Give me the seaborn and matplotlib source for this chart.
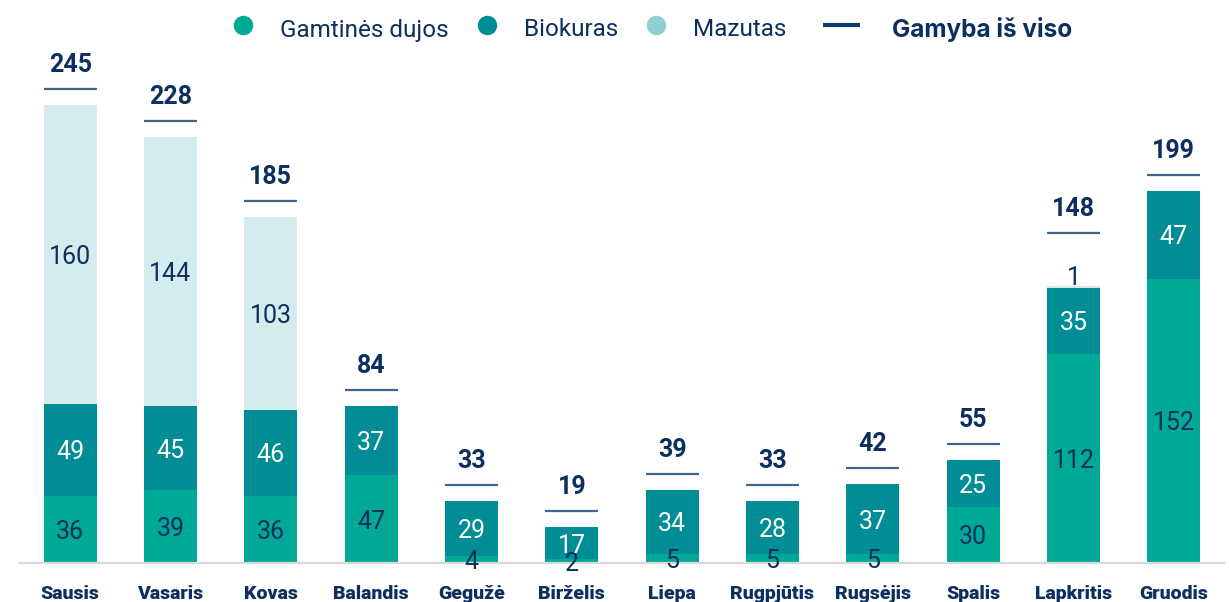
import numpy as np
import pandas as pd
import matplotlib
matplotlib.use("Agg")
import matplotlib.pyplot as plt
import matplotlib.transforms as mtransforms
from matplotlib.lines import Line2D
import seaborn as sns

# Monthly heat production by fuel type
months = ["Sausis", "Vasaris", "Kovas", "Balandis", "Gegužė", "Birželis",
          "Liepa", "Rugpjūtis", "Rugsėjis", "Spalis", "Lapkritis", "Gruodis"]
gamtines_dujos = [36, 39, 36, 47, 4, 2, 5, 5, 5, 30, 112, 152]
biokuras = [49, 45, 46, 37, 29, 17, 34, 28, 37, 25, 35, 47]
mazutas = [160, 144, 103, 0, 0, 0, 0, 0, 0, 0, 1, 0]
gamyba_is_viso = [245, 228, 185, 84, 33, 19, 39, 33, 42, 55, 148, 199]

series_names = ["Gamtinės dujos", "Biokuras", "Mazutas"]
total_name = "Gamyba iš viso"

NAVY = "#0C2F5F"
GAS = "#00A896"
BIO = "#008D96"
MAZ = "#D5ECEE"
MAZ_KEY = "#8ED0CF"
TOTAL_LINE = "#3F6591"
LEGEND_LINE = "#0C3A6E"
BASE = "#D9D9D9"

bar_colors = [GAS, BIO, MAZ]
key_colors = [GAS, BIO, MAZ_KEY]
label_colors = [NAVY, "white", NAVY]

df = pd.DataFrame({"men": months, series_names[0]: gamtines_dujos,
                   series_names[1]: biokuras, series_names[2]: mazutas})
layers = df[series_names].to_numpy().T
cum = np.cumsum(layers, axis=0)

sns.set_style("white")
plt.rcParams["font.family"] = ["Roboto", "DejaVu Sans"]

W, H = 1229, 602
fig = plt.figure(figsize=(W / 100, H / 100), dpi=100)
ax = fig.add_axes([20 / W, 39 / H, 1204 / W, 523 / H])

BAR_W = 0.53
# Stacked bars: draw cumulative heights from the top layer down
for k in reversed(range(len(series_names))):
    sns.barplot(x=df["men"], y=cum[k], order=months, color=bar_colors[k],
                width=BAR_W, saturation=1, errorbar=None, linewidth=0, ax=ax)

ax.set_xlim(-0.5, len(months) - 0.5)
ax.set_ylim(0, 279.8)
ax.set_xlabel("")
ax.set_ylabel("")
ax.set_yticks([])
sns.despine(ax=ax, left=True, top=True, right=True)
ax.spines["bottom"].set_color(BASE)
ax.spines["bottom"].set_linewidth(1.6)
ax.tick_params(axis="x", length=0, pad=16, labelsize=14, labelcolor=NAVY)
for lbl in ax.get_xticklabels():
    lbl.set_fontweight("black")

PX = 0.72  # points per pixel at 100 dpi
FS = 18

for i in range(len(months)):
    top_k = max([k for k in range(len(series_names)) if layers[k][i] > 0])
    lifted = False
    for k in range(len(series_names)):
        v = layers[k][i]
        if v <= 0:
            continue
        if k == top_k and v < 3:
            # too thin to hold its label: write it just above the bar
            ax.annotate(f"{v}", (i, cum[k][i]), xytext=(0, 11 * PX),
                        textcoords="offset points", ha="center",
                        va="center_baseline", fontsize=FS, color=label_colors[k])
            lifted = True
        else:
            ax.text(i, cum[k][i] - v / 2, f"{v}", ha="center",
                    va="center_baseline", fontsize=FS, color=label_colors[k])
    extra = 37 if lifted else 0
    total = gamyba_is_viso[i]
    tr = mtransforms.offset_copy(ax.transData, fig=fig, x=0,
                                 y=(16 + extra) * PX, units="points")
    ax.plot([i - BAR_W / 2, i + BAR_W / 2], [total, total], color=TOTAL_LINE,
            lw=1.6, transform=tr, solid_capstyle="butt")
    ax.annotate(f"{total}", (i, total), xytext=(0, (33 + extra) * PX),
                textcoords="offset points", ha="center", va="baseline",
                fontsize=FS, fontweight="bold", color=NAVY)

# Legend row across the top
fig.canvas.draw()
renderer = fig.canvas.get_renderer()
y_mark = 1 - 25 / H
y_text = 1 - 36.5 / H
x = 243
for name, color in zip(series_names, key_colors):
    fig.add_artist(Line2D([x / W], [y_mark], marker="o", ms=13, ls="",
                          color=color, transform=fig.transFigure))
    t = fig.text((x + 37) / W, y_text, name, ha="left", va="baseline",
                 fontsize=17.5, color=NAVY)
    x = t.get_window_extent(renderer).x1 + 38
x0 = x - 38 + 37
fig.add_artist(Line2D([x0 / W, (x0 + 37) / W], [y_mark, y_mark], lw=3,
                      color=LEGEND_LINE, transform=fig.transFigure,
                      solid_capstyle="butt"))
fig.text((x0 + 37 + 32) / W, y_text, total_name, ha="left", va="baseline",
         fontsize=17.5, fontweight="bold", color=NAVY,
         family=["Inter", "Roboto", "DejaVu Sans"])

fig.savefig("out.png", dpi=100)
